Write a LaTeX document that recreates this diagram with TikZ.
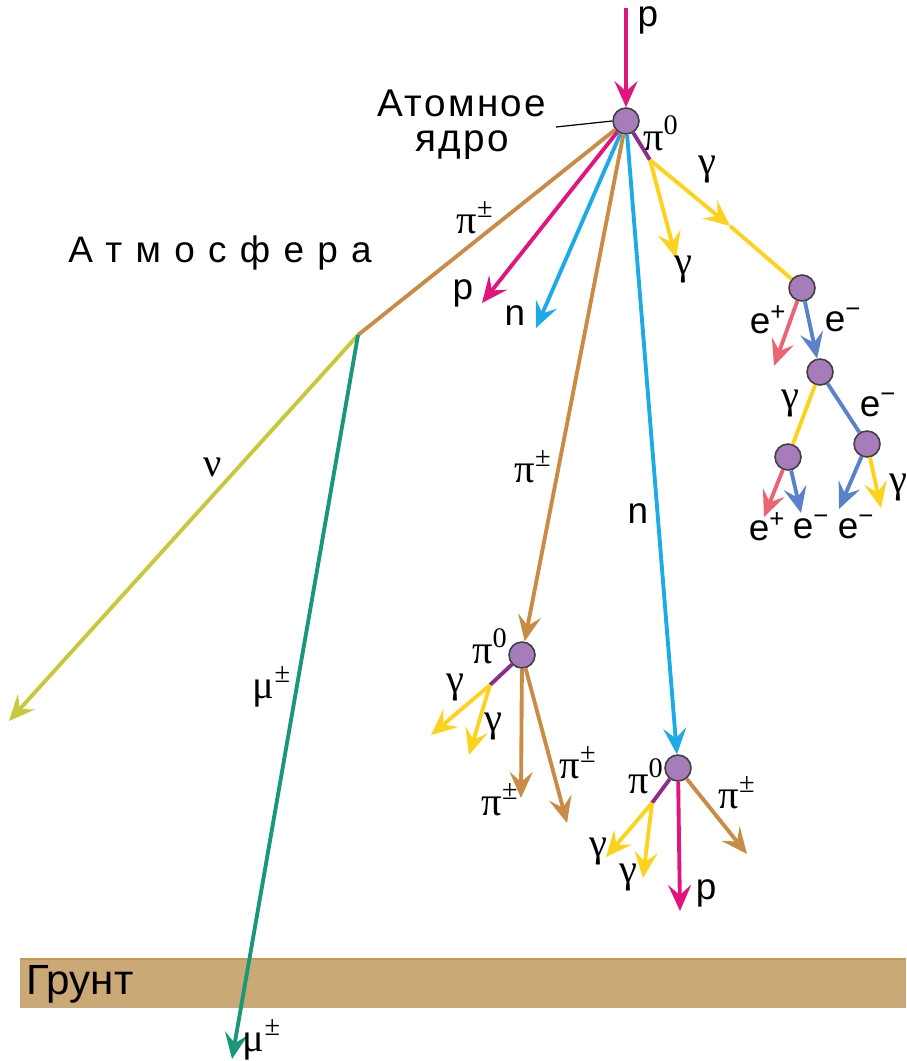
\documentclass[tikz,border=0pt]{standalone}
\usepackage{fontspec}
\setmainfont{Liberation Sans}
\newfontfamily\grk{Liberation Serif}
\usetikzlibrary{arrows.meta}

\definecolor{protcol}{RGB}{226,20,126}
\definecolor{neutcol}{RGB}{30,170,230}
\definecolor{pioncol}{RGB}{200,140,70}
\definecolor{gamcol}{RGB}{255,210,30}
\definecolor{pizcol}{RGB}{140,45,140}
\definecolor{poscol}{RGB}{235,100,115}
\definecolor{eleccol}{RGB}{90,130,200}
\definecolor{nucol}{RGB}{200,200,60}
\definecolor{mucol}{RGB}{26,150,120}
\definecolor{nuclcol}{RGB}{166,124,186}
\definecolor{groundcol}{RGB}{202,169,119}
\definecolor{groundedge}{RGB}{200,150,90}

\begin{document}
\begin{tikzpicture}[x=0.02cm, y=-0.02cm,
    nucl/.style={circle, draw=black!75, fill=nuclcol, line width=0.9pt, minimum size=0.52cm, inner sep=0pt},
    trk/.style={line width=2.2pt},
    arr/.style={trk, -{Stealth[length=5.2mm, width=4.6mm, inset=2mm]}},
    lbl/.style={font=\fontsize{21}{24}\selectfont, inner sep=0pt},
    glbl/.style={font=\fontsize{23}{24}\selectfont\grk, inner sep=0pt}
  ]
  \useasboundingbox (0,0) rectangle (906,1061);

  % ground
  \fill[groundcol] (20,958) rectangle (906,1008);
  \draw[groundedge, line width=1.2pt] (20,959) -- (906,959);
  \node[lbl, font=\fontsize{24}{26}\selectfont, anchor=west] (grunt) at (26,984) {Грунт};

  % nuclei and free ends
  \node[nucl] (N0) at (626,121) {};
  \node[nucl] (E1) at (802,288) {};
  \node[nucl] (E2) at (820,372) {};
  \node[nucl] (E3) at (788,457) {};
  \node[nucl] (E4) at (867,444) {};
  \node[nucl] (P1) at (522,655) {};
  \node[nucl] (P2) at (678,768) {};
  \coordinate (pin) at (626,8);
  \coordinate (F0) at (650,160);
  \coordinate (G0) at (730,226);
  \coordinate (K) at (358,335);
  \coordinate (F1) at (490,685);
  \coordinate (F2) at (652,803);

  % primary
  \draw[arr, protcol] (pin) -- (N0);
  \draw[trk, pizcol] (N0) -- (F0);
  \draw[arr, gamcol] (F0) -- (676,258);
  \draw[arr, gamcol] (F0) -- (G0);
  \draw[trk, gamcol] (G0) -- (E1);
  \draw[trk, pioncol] (N0) -- (K);
  \draw[arr, protcol] (N0) -- (482,303);
  \draw[arr, neutcol] (N0) -- (536,328);
  \draw[arr, pioncol] (N0) -- (P1);
  \draw[arr, neutcol] (N0) -- (P2);

  % muon and neutrino
  \draw[arr, nucol] (K) -- (9,721);
  \draw[arr, mucol] (K) -- (232,1059);

  % electron-photon shower
  \draw[arr, poscol] (E1) -- (774,366);
  \draw[arr, eleccol] (E1) -- (E2);
  \draw[trk, gamcol] (E2) -- (E3);
  \draw[trk, eleccol] (E2) -- (E4);
  \draw[arr, poscol] (E3) -- (764,517);
  \draw[arr, eleccol] (E3) -- (801,513);
  \draw[arr, eleccol] (E4) -- (839,509);
  \draw[arr, gamcol] (E4) -- (881,508);

  % secondary pion vertex
  \draw[trk, pizcol] (P1) -- (F1);
  \draw[arr, gamcol] (F1) -- (431,735);
  \draw[arr, gamcol] (F1) -- (469,755);
  \draw[arr, pioncol] (P1) -- (521,798);
  \draw[arr, pioncol] (P1) -- (567,823);

  % secondary neutron vertex
  \draw[trk, pizcol] (P2) -- (F2);
  \draw[arr, gamcol] (F2) -- (606,857);
  \draw[arr, gamcol] (F2) -- (643,878);
  \draw[arr, protcol] (P2) -- (680,911);
  \draw[arr, pioncol] (P2) -- (747,854);

  % labels
  \node[lbl, text height=1.1ex, anchor=base] (lpin) at (648,27) {p};
  \node[lbl, font=\fontsize{22}{24}\selectfont\addfontfeature{LetterSpace=6}] (latom) at (462,103) {Атомное};
  \node[lbl, font=\fontsize{22}{24}\selectfont\addfontfeature{LetterSpace=6}] (lyadro) at (462,145) {ядро};
  \coordinate (lead) at (556,127);
  \draw[line width=0.7pt] (lead) -- (N0.west);
  \node[lbl, font=\fontsize{21}{24}\selectfont\addfontfeature{LetterSpace=36}] (latm) at (220,253) {Атмосфера};
  \node[glbl] (lpi0) at (661,133) {π\textsuperscript{0}};
  \node[glbl] (lg1) at (707,170) {γ};
  \node[glbl] (lg2) at (683,270) {γ};
  \node[glbl] (lpi1) at (475,218) {π\textsuperscript{±}};
  \node[lbl] (lp1) at (463,293) {p};
  \node[lbl] (ln1) at (515,316) {n};
  \node[glbl] (lpi2) at (533,467) {π\textsuperscript{±}};
  \node[lbl] (ln2) at (638,514) {n};
  \node[glbl] (lnu) at (213,467) {ν};
  \node[glbl] (lmu1) at (272,687) {μ\textsuperscript{±}};
  \node[glbl] (lmu2) at (262,1040) {μ\textsuperscript{±}};

  \node[lbl] (le1) at (768,320) {e\textsuperscript{+}};
  \node[lbl] (le2) at (843,320) {e\textsuperscript{−}};
  \node[glbl] (lg3) at (790,404) {γ};
  \node[lbl] (le3) at (878,405) {e\textsuperscript{−}};
  \node[lbl] (le4) at (767,527) {e\textsuperscript{+}};
  \node[lbl] (le5) at (811,527) {e\textsuperscript{−}};
  \node[lbl] (le6) at (856,527) {e\textsuperscript{−}};
  \node[glbl] (lg4) at (898,488) {γ};

  \node[glbl] (lpi3) at (490,646) {π\textsuperscript{0}};
  \node[glbl] (lg5) at (455,688) {γ};
  \node[glbl] (lg6) at (493,727) {γ};
  \node[glbl] (lpi4) at (500,800) {π\textsuperscript{±}};
  \node[glbl] (lpi5) at (578,763) {π\textsuperscript{±}};

  \node[glbl] (lpi6) at (646,776) {π\textsuperscript{0}};
  \node[glbl] (lg7) at (598,852) {γ};
  \node[glbl] (lg8) at (628,878) {γ};
  \node[lbl] (lp2) at (706,893) {p};
  \node[glbl] (lpi7) at (737,793) {π\textsuperscript{±}};
\end{tikzpicture}
\end{document}
